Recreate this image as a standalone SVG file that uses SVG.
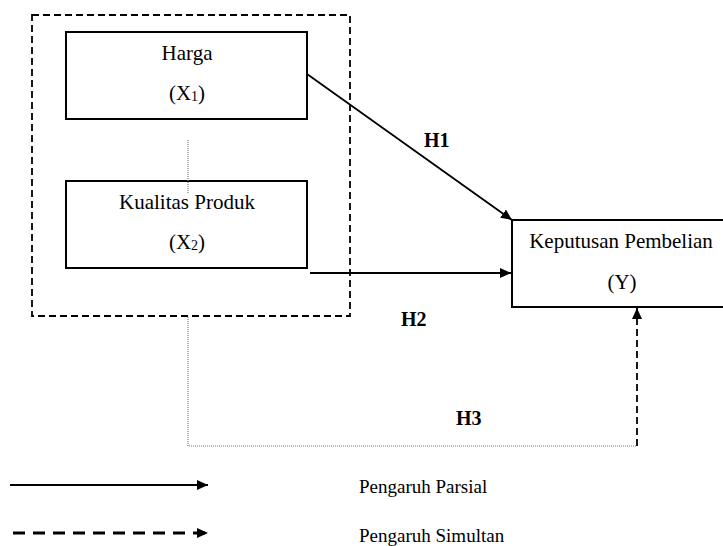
<svg xmlns="http://www.w3.org/2000/svg" width="723" height="546" viewBox="0 0 723 546">
<style>
.box{fill:#fff;stroke:#000;stroke-width:2}
.t{font-family:"Liberation Serif","Times New Roman",serif;font-size:21px;fill:#000;text-anchor:middle}
.lg{font-family:"Liberation Serif","Times New Roman",serif;font-size:19px;fill:#000}
.h{font-family:"Liberation Serif","Times New Roman",serif;font-size:20px;font-weight:bold;fill:#000}
.sub{font-size:14px}
.solid{fill:none;stroke:#000;stroke-width:1.8}
.dash{fill:none;stroke:#000;stroke-width:1.8;stroke-dasharray:7 4}
.dot{fill:none;stroke:#777;stroke-width:1.2;stroke-dasharray:1 1}
</style>
<defs>
<marker id="ah" markerUnits="userSpaceOnUse" markerWidth="12" markerHeight="10" refX="11" refY="5" orient="auto">
<path d="M0,0 L11,5 L0,10 Z" fill="#000"/>
</marker>
</defs>
<rect id="group-box" x="32" y="15" width="318" height="301" fill="none" stroke="#000" stroke-width="1.8" stroke-dasharray="7 4"/>
<g id="harga">
<rect class="box" x="66" y="32" width="241" height="87"/>
<text class="t" x="187" y="60">Harga</text>
<text class="t" x="187" y="100">(X<tspan class="sub" dy="1">1</tspan><tspan dy="-1">)</tspan></text>
</g>
<g id="kualitas">
<rect class="box" x="66" y="181" width="241" height="87"/>
<text class="t" x="187" y="209">Kualitas Produk</text>
<text class="t" x="187" y="249">(X<tspan class="sub" dy="1">2</tspan><tspan dy="-1">)</tspan></text>
</g>
<g id="keputusan">
<rect class="box" x="512" y="220" width="215" height="87"/>
<text class="t" x="621" y="248">Keputusan Pembelian</text>
<text class="t" x="622" y="289">(Y)</text>
</g>
<g id="connectors">
<line class="dot" x1="188" y1="140" x2="188" y2="193"/>
<line class="solid" x1="307" y1="74" x2="512" y2="220" marker-end="url(#ah)"/>
<line class="solid" x1="310" y1="273" x2="511" y2="273" marker-end="url(#ah)"/>
<polyline class="dot" points="188,317 188,446 637,446"/>
<line class="dash" x1="637" y1="446" x2="637" y2="308" marker-end="url(#ah)"/>
</g>
<g id="labels">
<text class="h" x="424" y="147">H1</text>
<text class="h" x="401" y="326">H2</text>
<text class="h" x="456" y="425">H3</text>
</g>
<g id="legend">
<line class="solid" x1="10" y1="485" x2="208" y2="485" marker-end="url(#ah)"/>
<line x1="13" y1="533" x2="208" y2="533" stroke="#000" stroke-width="3" stroke-dasharray="12 8" marker-end="url(#ah)"/>
<text class="lg" x="359" y="493">Pengaruh Parsial</text>
<text class="lg" x="359" y="542">Pengaruh Simultan</text>
</g>
</svg>
